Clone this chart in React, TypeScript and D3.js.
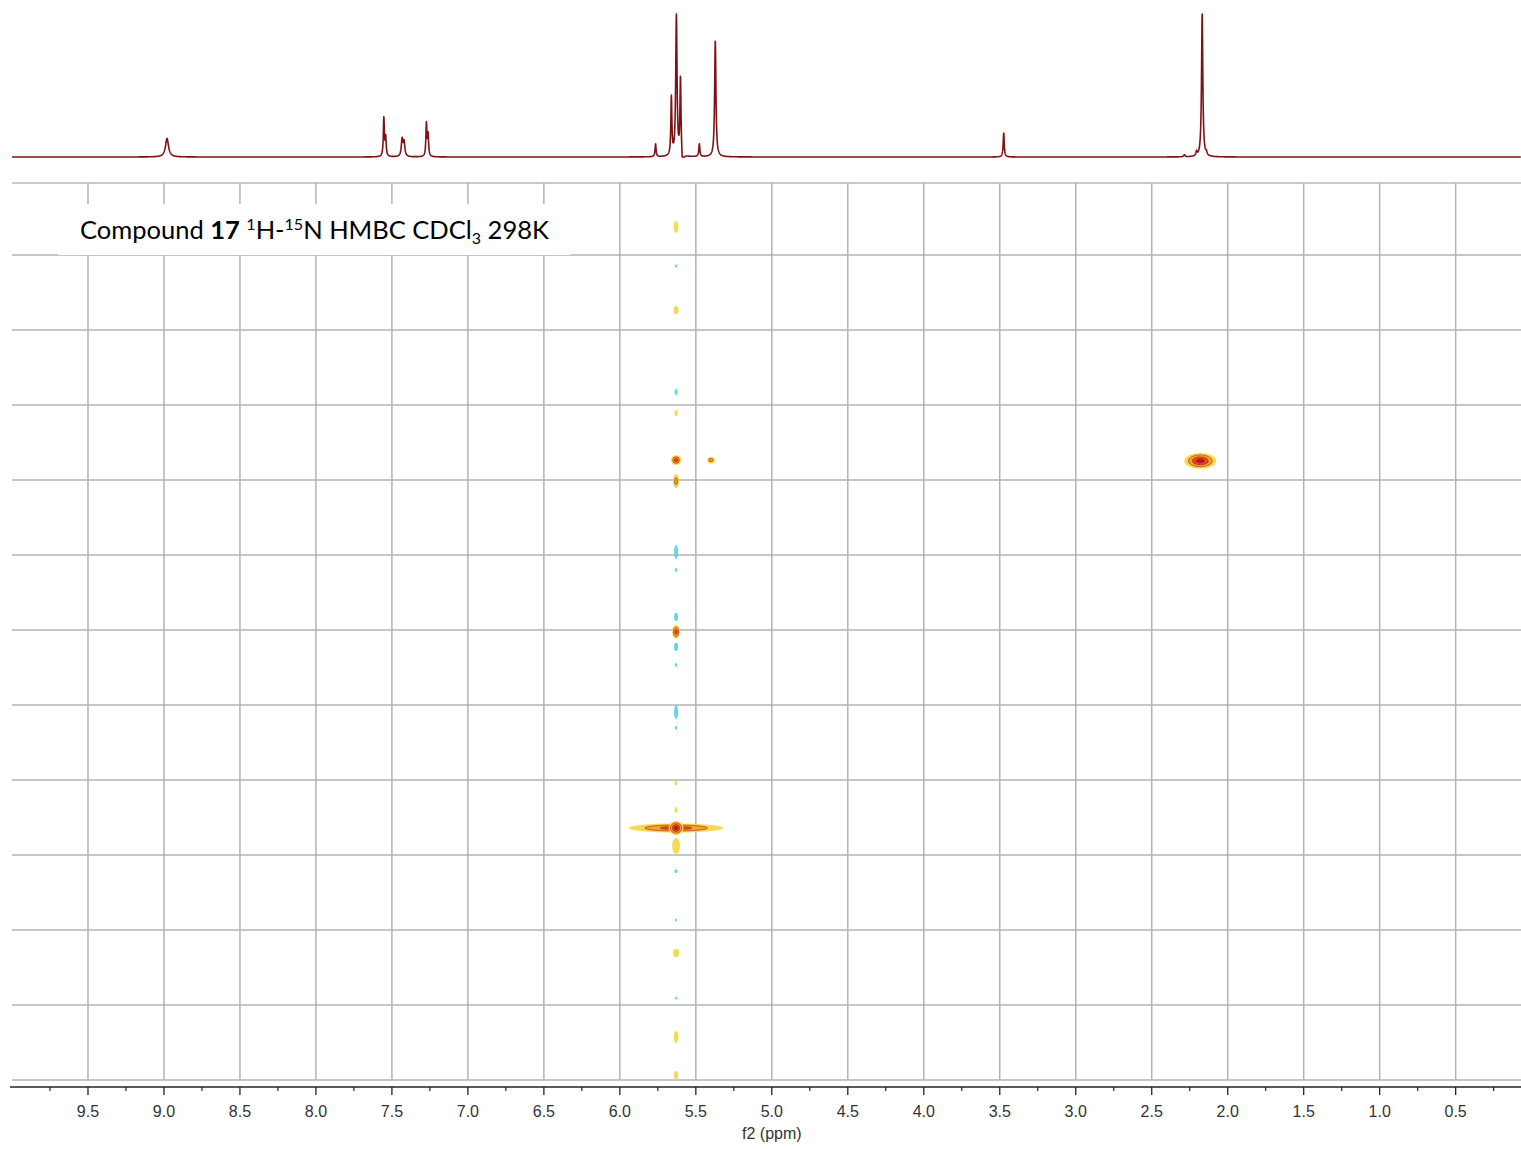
import React from "react";
import * as d3 from "d3";

// ---- axis data ----
const f2Ticks = [9.5, 9.0, 8.5, 8.0, 7.5, 7.0, 6.5, 6.0, 5.5, 5.0, 4.5, 4.0, 3.5, 3.0, 2.5, 2.0, 1.5, 1.0, 0.5];
const f2Minor = [9.75, 9.25, 8.75, 8.25, 7.75, 7.25, 6.75, 6.25, 5.75, 5.25, 4.75, 4.25, 3.75, 3.25, 2.75, 2.25, 1.75, 1.25, 0.75, 0.25];
const f2Domain = [10.0, 0.07];
const f1Grid = [0, 20, 40, 60, 80, 100, 120, 140, 160, 180, 200, 220];
const f1Domain = [-19.2, 220];

// ---- 1D 1H projection: shift (ppm), relative height, half-width (ppm) ----
const h1Shift = [8.98, 7.553, 7.541, 7.433, 7.42, 7.273, 7.262, 5.765, 5.661, 5.628, 5.601, 5.585, 5.477, 5.372, 3.474, 2.285, 2.205, 2.168, 2.14];
const h1Height = [0.13, 0.27, 0.13, 0.12, 0.1, 0.23, 0.15, 0.09, 0.41, 1.0, 0.55, -0.2, 0.09, 0.82, 0.17, 0.015, 0.03, 1.0, 0.02];
const h1Width = [0.012, 0.004, 0.004, 0.006, 0.006, 0.004, 0.004, 0.004, 0.004, 0.005, 0.004, 0.004, 0.004, 0.005, 0.004, 0.005, 0.004, 0.005, 0.004];

// ---- 2D cross peaks: f2 (ppm), f1, half-widths, contour levels, sign ----
const cpF2 = [5.63, 5.63, 5.63, 5.63, 5.63, 5.63, 5.40, 5.63, 5.63, 5.63, 5.63, 5.63, 5.63, 5.63, 5.63, 5.63, 5.63, 5.63, 5.63, 5.63, 5.63, 5.63, 5.63, 5.63, 5.63, 5.63, 5.63, 2.18];
const cpF1 = [-7.5, 2.9, 14.7, 36.5, 42.1, 54.7, 54.7, 60.3, 79.2, 84.0, 96.5, 100.5, 104.5, 109.3, 121.9, 126.1, 140.8, 148.0, 152.8, 152.8, 157.6, 164.3, 177.3, 186.1, 198.1, 208.5, 218.7, 54.9];
const cpW2 = [0.016, 0.008, 0.016, 0.01, 0.01, 0.033, 0.026, 0.02, 0.013, 0.008, 0.013, 0.026, 0.013, 0.008, 0.013, 0.008, 0.01, 0.01, 0.31, 0.05, 0.026, 0.01, 0.007, 0.02, 0.007, 0.016, 0.013, 0.105];
const cpW1 = [1.6, 0.4, 1.07, 0.8, 0.8, 1.33, 0.93, 1.87, 1.87, 0.53, 1.07, 1.87, 1.07, 0.53, 1.87, 0.53, 0.67, 0.8, 1.2, 1.87, 2.13, 0.53, 0.4, 1.07, 0.4, 1.6, 1.07, 2.13];
const cpLevels = [1, 1, 1, 1, 1, 3, 2, 2, 1, 1, 1, 3, 1, 1, 1, 1, 1, 1, 3, 4, 1, 1, 1, 1, 1, 1, 1, 4];
const cpSign = [1, -1, 1, -1, 1, 1, 1, 1, -1, -1, -1, 1, -1, -1, -1, -1, 1, 1, 1, 1, 1, -1, -1, 1, -1, 1, 1, 1];

const posColors = ["#f6d84a", "#f4a12a", "#e8441f", "#b3141c"];
const negColors = ["#55d6e4"];

export default function App() {
  const W = 1521, H = 1149;
  const left = 12, right = 1521, top2d = 183, bottom2d = 1080, axisY = 1087;
  const x = d3.scaleLinear().domain(f2Domain).range([left, right]);
  const y = d3.scaleLinear().domain(f1Domain).range([top2d, bottom2d]);
  const yI = d3.scaleLinear().domain([0, 1]).range([157, 14]).clamp(true);

  // 1D spectrum from the peak list (Lorentzian line shapes)
  const pts: [number, number][] = [];
  for (let px = left; px <= right; px += 0.2) {
    const ppm = x.invert(px);
    let s = 0;
    for (let i = 0; i < h1Shift.length; i++) {
      const d = (ppm - h1Shift[i]) / h1Width[i];
      s += h1Height[i] / (1 + d * d);
    }
    pts.push([px, yI(s)]);
  }
  const line = d3.line<[number, number]>().x((d) => d[0]).y((d) => d[1]);

  const blobs: React.ReactNode[] = [];
  cpF2.forEach((f2, i) => {
    const n = cpLevels[i];
    const cx = x(f2), cy = y(cpF1[i]);
    const rx = Math.abs(x(f2 + cpW2[i]) - x(f2));
    const ry = Math.abs(y(cpF1[i] + cpW1[i]) - y(cpF1[i]));
    for (let k = 0; k < n; k++) {
      const f = (n - k) / n;
      const col = cpSign[i] > 0 ? posColors[Math.min(k, 3)] : negColors[0];
      blobs.push(
        <ellipse key={`b${i}-${k}`} cx={cx} cy={cy} rx={rx * f} ry={ry * f} fill={col}
          stroke={k > 0 ? "#a3161b" : "none"} strokeWidth={k > 0 ? 0.6 : 0} opacity={0.95} />
      );
    }
  });

  const tickFont = "'Liberation Sans', Arial, sans-serif";

  return (
    <div style={{ position: "absolute", left: 0, top: 0 }}>
      <svg width={W} height={H} style={{ display: "block", background: "#fff" }}>
        {/* 1D projection */}
        <path d={line(pts) || ""} fill="none" stroke="#7d1216" strokeWidth={1.6} strokeLinejoin="round" />

        {/* grid */}
        <line x1={left} x2={right} y1={top2d} y2={top2d} stroke="#b9b9b9" strokeWidth={1.5} />
        {f1Grid.map((v) => (
          <line key={`h${v}`} x1={left} x2={right} y1={y(v)} y2={y(v)} stroke="#b3b3b3" strokeWidth={1.5} />
        ))}
        {f2Ticks.map((v) => (
          <line key={`v${v}`} x1={x(v)} x2={x(v)} y1={top2d} y2={bottom2d} stroke="#b3b3b3" strokeWidth={1.5} />
        ))}

        {/* title box */}
        <rect x={58} y={204} width={512} height={51} fill="#fff" />
        <text x={80} y={239} fontFamily="Lato, 'Open Sans', sans-serif" fontSize={25.5} fill="#000">
          <tspan>Compound </tspan>
          <tspan fontWeight="bold">17</tspan>
          <tspan> </tspan>
          <tspan fontSize={16} dy={-9}>1</tspan>
          <tspan dy={9}>H-</tspan>
          <tspan fontSize={16} dy={-9}>15</tspan>
          <tspan dy={9}>N HMBC CDCl</tspan>
          <tspan fontSize={16} dy={5}>3</tspan>
          <tspan dy={-5}> 298K</tspan>
        </text>

        {/* cross peaks */}
        {blobs}

        {/* x axis */}
        <line x1={left - 2} x2={right} y1={axisY} y2={axisY} stroke="#222" strokeWidth={1.6} />
        {f2Ticks.map((v) => (
          <line key={`t${v}`} x1={x(v)} x2={x(v)} y1={axisY} y2={axisY + 8} stroke="#222" strokeWidth={1.3} />
        ))}
        {f2Minor.map((v) => (
          <line key={`m${v}`} x1={x(v)} x2={x(v)} y1={axisY} y2={axisY + 4} stroke="#222" strokeWidth={1.2} />
        ))}
        {f2Ticks.map((v) => (
          <text key={`l${v}`} x={x(v)} y={1117} textAnchor="middle" fontFamily={tickFont} fontSize={16} fill="#333">
            {v.toFixed(1)}
          </text>
        ))}
        <text x={x(5.0)} y={1139} textAnchor="middle" fontFamily={tickFont} fontSize={16} fill="#333">f2 (ppm)</text>
      </svg>
    </div>
  );
}
